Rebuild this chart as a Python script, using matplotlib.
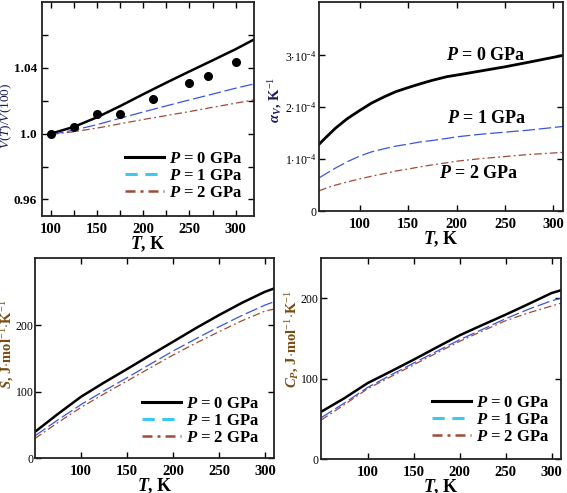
import matplotlib
matplotlib.use('Agg')
import matplotlib.pyplot as plt
from matplotlib.lines import Line2D
from matplotlib.ticker import MultipleLocator, FuncFormatter, FixedLocator

plt.rcParams['font.family'] = 'Liberation Serif'
plt.rcParams['mathtext.fontset'] = 'custom'
plt.rcParams['mathtext.rm'] = 'Liberation Serif'
plt.rcParams['mathtext.it'] = 'Liberation Serif:italic'
plt.rcParams['mathtext.bf'] = 'Liberation Serif:bold'
plt.rcParams['mathtext.bfit'] = 'Liberation Serif:bold:italic'

# --- dane: V(T)/V(100)
T_vol = [100, 125, 150, 175, 200, 225, 250, 275, 300, 320]
vol_p0 = [1.0, 1.0042, 1.0100, 1.0168, 1.0240, 1.0310, 1.0378, 1.0445, 1.0513, 1.0572]
vol_p1 = [0.9995, 1.0022, 1.0055, 1.0094, 1.0132, 1.0169, 1.0205, 1.0240, 1.0276, 1.0302]
vol_p2 = [0.9995, 1.0012, 1.0034, 1.0060, 1.0086, 1.0110, 1.0134, 1.0160, 1.0185, 1.0205]
T_exp = [100, 125, 150, 175, 210, 250, 270, 300]
vol_exp = [1.0, 1.0039, 1.0118, 1.0122, 1.0210, 1.0308, 1.0350, 1.0434]

# --- dane: alpha_V (x 1e-4)
T_alpha = [58, 65, 75, 87, 100, 112, 125, 137, 150, 162, 175, 190, 200, 225, 250, 275, 310]
alpha_p0 = [1.29, 1.42, 1.60, 1.78, 1.94, 2.08, 2.20, 2.30, 2.38, 2.45, 2.52, 2.59, 2.62,
            2.70, 2.78, 2.87, 3.00]
alpha_p1 = [0.64, 0.72, 0.83, 0.95, 1.06, 1.14, 1.20, 1.25, 1.29, 1.33, 1.36, 1.40, 1.43,
            1.48, 1.52, 1.56, 1.63]
alpha_p2 = [0.39, 0.44, 0.50, 0.56, 0.62, 0.67, 0.72, 0.77, 0.81, 0.85, 0.89, 0.93, 0.96,
            1.01, 1.05, 1.09, 1.13]

# --- dane: S
T_S = [50, 75, 100, 125, 150, 175, 200, 225, 250, 275, 300, 310]
S_p0 = [40, 67, 92.7, 114, 134.3, 155, 175.4, 196, 215.5, 234, 250.6, 255.6]
S_p1 = [34, 58, 81, 101.5, 121.3, 141.5, 161.4, 180, 198, 215, 230.6, 235.6]
S_p2 = [30, 54, 76.7, 97, 116.3, 136, 155.4, 173.5, 190.5, 207, 221.6, 224.6]

# --- dane: Cp
T_C = [50, 75, 100, 125, 150, 175, 200, 225, 250, 275, 300, 310]
C_p0 = [59.3, 76, 94.6, 109, 123.7, 139, 154, 167, 179.7, 193, 206.6, 210]
C_p1 = [51.9, 70, 89.2, 104.5, 119.5, 134, 148.5, 161.5, 174.7, 186.5, 197, 200]
C_p2 = [49, 68, 87.6, 102.5, 117.4, 132, 146.5, 159.5, 172.2, 182, 190.5, 194]

labels = [r'$\mathbfit{P}$ = 0 GPa', r'$\mathbfit{P}$ = 1 GPa', r'$\mathbfit{P}$ = 2 GPa']
c_blue = '#3a55e0'
c_brown = '#a24a38'
c_legblue = '#3cc8f0'
c_lab_blue = '#1a1a60'
c_lab_brown = '#7a4a10'


def styl_osi(ax):
    for s in ax.spines.values():
        s.set_linewidth(1.3)
        s.set_color('#222222')
    ax.tick_params(which='both', direction='in', top=True, right=True, length=4, width=1)
    for lab in ax.get_xticklabels():
        lab.set_fontweight('bold')
    ax.tick_params(axis='x', labelsize=10.5, pad=5)
    ax.set_xlabel(r'$\mathbfit{T}$, K', fontsize=13, fontweight='bold', labelpad=-1)


def rysuj(ax, T, a, b, c, lw0=1.8):
    ax.plot(T, a, color='black', lw=lw0)
    ax.plot(T, b, color=c_blue, lw=0.9, dashes=(10, 3))
    ax.plot(T, c, color=c_brown, lw=0.9, dashes=(6, 2.5, 1.5, 2.5))


def legenda(ax, bbox):
    h = [Line2D([], [], color='black', lw=2.2),
         Line2D([], [], color=c_legblue, lw=2.2, dashes=(4, 2.5)),
         Line2D([], [], color=c_brown, lw=1.8, dashes=(4, 2, 1.2, 2))]
    ax.legend(h, labels, loc='lower right', bbox_to_anchor=bbox, frameon=False,
              handlelength=2.3, handletextpad=0.3, labelspacing=0.05,
              prop={'weight': 'bold', 'size': 12}, borderaxespad=0)


fig = plt.figure(figsize=(5.67, 4.93), dpi=100)

# panel 1
ax1 = fig.add_axes([0.074, 0.562, 0.374, 0.434])
rysuj(ax1, T_vol, vol_p0, vol_p1, vol_p2)
ax1.plot(T_exp, vol_exp, 'o', color='black', ms=5.5)
ax1.set_xlim(90, 320)
ax1.set_ylim(0.95, 1.08)
ax1.xaxis.set_major_locator(MultipleLocator(50))
ax1.xaxis.set_minor_locator(MultipleLocator(25))
ax1.yaxis.set_major_locator(FixedLocator([0.96, 1.0, 1.04]))
ax1.yaxis.set_minor_locator(FixedLocator([0.98, 1.02, 1.06]))


def fmt_vol(v, pos):
    s = f'{v:.2f}'.rstrip('0')
    return s + '0' if s.endswith('.') else s


ax1.yaxis.set_major_formatter(FuncFormatter(fmt_vol))
styl_osi(ax1)
ax1.tick_params(axis='y', labelsize=9.5)
for lab in ax1.get_yticklabels():
    lab.set_fontweight('bold')
ax1.set_ylabel(r'$V$($T$)/$V$(100)', fontsize=9.5, color=c_lab_blue)
ax1.yaxis.set_label_coords(-0.132, 0.467)
legenda(ax1, (0.975, 0.04))

# panel 2
ax2 = fig.add_axes([0.563, 0.572, 0.430, 0.424])
rysuj(ax2, T_alpha, [v * 1e-4 for v in alpha_p0], [v * 1e-4 for v in alpha_p1],
      [v * 1e-4 for v in alpha_p2], lw0=2.0)
ax2.set_xlim(58, 310)
ax2.set_ylim(0, 4.03e-4)
ax2.xaxis.set_major_locator(MultipleLocator(50))
ax2.yaxis.set_major_locator(FixedLocator([0, 1e-4, 2e-4, 3e-4]))


def fmt_alpha(v, pos):
    n = round(v * 1e4)
    return '0' if n == 0 else rf'{n}$\cdot$10$^{{-4}}$'


ax2.yaxis.set_major_formatter(FuncFormatter(fmt_alpha))
styl_osi(ax2)
ax2.tick_params(axis='y', labelsize=8.5, pad=2)
ax2.set_ylabel(r'$\mathbfit{\alpha}_{\mathbfit{V}}$, K$^{-1}$', fontsize=10.5,
               color=c_lab_blue, fontweight='bold')
ax2.yaxis.set_label_coords(-0.145, 0.53)
for txt, tx, ty in zip(labels, [230, 231, 223], [3.0e-4, 1.79e-4, 0.73e-4]):
    ax2.text(tx, ty, txt, fontsize=13, fontweight='bold', ha='center', va='center')

# panel 3
ax3 = fig.add_axes([0.062, 0.0704, 0.4215, 0.407])
rysuj(ax3, T_S, S_p0, S_p1, S_p2)
ax3.set_xlim(50, 310)
ax3.set_ylim(0, 302)
ax3.xaxis.set_major_locator(FixedLocator([100, 150, 200, 250, 300]))
ax3.yaxis.set_major_locator(FixedLocator([0, 100, 200]))
styl_osi(ax3)
ax3.tick_params(axis='y', labelsize=8.5, pad=1)
ax3.set_ylabel(r'$\mathbfit{S}$, J$\cdot$mol$^{-1}$$\cdot$K$^{-1}$', fontsize=10.5,
               fontweight='bold', color=c_lab_brown)
ax3.yaxis.set_label_coords(-0.08, 0.57)
legenda(ax3, (0.965, 0.03))

# panel 4
ax4 = fig.add_axes([0.567, 0.0684, 0.422, 0.408])
rysuj(ax4, T_C, C_p0, C_p1, C_p2)
ax4.set_xlim(50, 310)
ax4.set_ylim(0, 250)
ax4.xaxis.set_major_locator(FixedLocator([100, 150, 200, 250, 300]))
ax4.yaxis.set_major_locator(FixedLocator([0, 100, 200]))
styl_osi(ax4)
ax4.tick_params(axis='y', labelsize=8.5, pad=2)
ax4.set_ylabel(r'$\mathbfit{C}_{\mathbfit{P}}$, J$\cdot$mol$^{-1}$$\cdot$K$^{-1}$', fontsize=10.5,
               fontweight='bold', color=c_lab_brown)
ax4.yaxis.set_label_coords(-0.087, 0.6)
legenda(ax4, (0.98, 0.04))

fig.savefig('out.png', dpi=100)
